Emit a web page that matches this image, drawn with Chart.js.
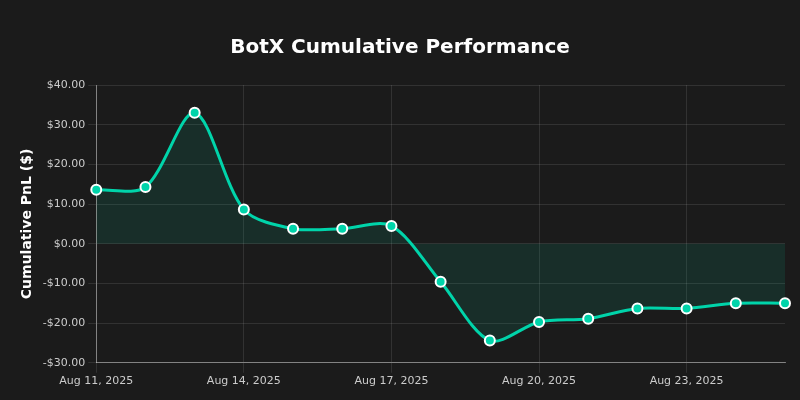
<!DOCTYPE html>
<html>
<head>
<meta charset="utf-8">
<script src="https://cdn.jsdelivr.net/npm/chart.js@4"></script>
<style>
    html, body { margin: 0; padding: 0; background: #1b1b1b; }
    .chart-container { position: relative; width: 800px; height: 400px; }
</style>
</head>
<body>
<div class="chart-container">
    <canvas id="chart" width="800" height="400"></canvas>
</div>
<script>
    const dates = ["Aug 11, 2025", "Aug 12, 2025", "Aug 13, 2025", "Aug 14, 2025", "Aug 15, 2025",
        "Aug 16, 2025", "Aug 17, 2025", "Aug 18, 2025", "Aug 19, 2025", "Aug 20, 2025",
        "Aug 21, 2025", "Aug 22, 2025", "Aug 23, 2025", "Aug 24, 2025", "Aug 25, 2025"]
    const pnl = [13.6, 14.3, 33.0, 8.6, 3.8, 3.8, 4.5, -9.6, -24.4, -19.7, -18.9, -16.3, -16.3, -15.0, -15.0]
    const yMin = -30
    const yMax = 40

    const gridColor = "rgba(255,255,255,0.1)"
    const tickColor = "#cccccc"
    const accent = "#00d4aa"

    Chart.defaults.font.family = "'DejaVu Sans', sans-serif"

    const ctx = document.getElementById("chart").getContext("2d")
    new Chart(ctx, {
        type: "line",
        data: {
            labels: dates,
            datasets: [{
                label: "Cumulative PnL",
                data: pnl,
                borderColor: accent,
                borderWidth: 3,
                backgroundColor: "rgba(0,212,170,0.1)",
                fill: "origin",
                tension: 0.3,
                pointRadius: 5,
                pointBackgroundColor: accent,
                pointBorderColor: "#ffffff",
                pointBorderWidth: 2
            }]
        },
        options: {
            responsive: false,
            animation: false,
            layout: { padding: { left: 15, right: 15, top: 10, bottom: 10 } },
            plugins: {
                legend: { display: false },
                title: {
                    display: true,
                    text: "BotX Cumulative Performance",
                    color: "#ffffff",
                    font: { size: 20, weight: "bold" },
                    padding: { top: 26, bottom: 25 }
                }
            },
            scales: {
                x: {
                    grid: {
                        color: (c) => (c.index % 3 === 0 ? gridColor : "rgba(0,0,0,0)"),
                        drawTicks: true,
                        tickLength: 10
                    },
                    border: { color: "rgba(255,255,255,0.4)" },
                    ticks: {
                        color: tickColor,
                        font: { size: 11 },
                        autoSkip: false,
                        maxRotation: 0,
                        padding: 2,
                        callback: (v, i) => (i % 3 === 0 ? dates[i] : "")
                    }
                },
                y: {
                    min: yMin,
                    max: yMax,
                    grid: { color: gridColor, tickLength: 8 },
                    border: { color: "rgba(255,255,255,0.4)" },
                    ticks: {
                        stepSize: 10,
                        color: tickColor,
                        font: { size: 11 },
                        padding: 3,
                        callback: (v) => (v < 0 ? "-$" : "$") + Math.abs(v).toFixed(2)
                    },
                    title: {
                        display: true,
                        text: "Cumulative PnL ($)",
                        color: "#ffffff",
                        font: { size: 14, weight: "bold" }
                    }
                }
            }
        }
    })
</script>
</body>
</html>
